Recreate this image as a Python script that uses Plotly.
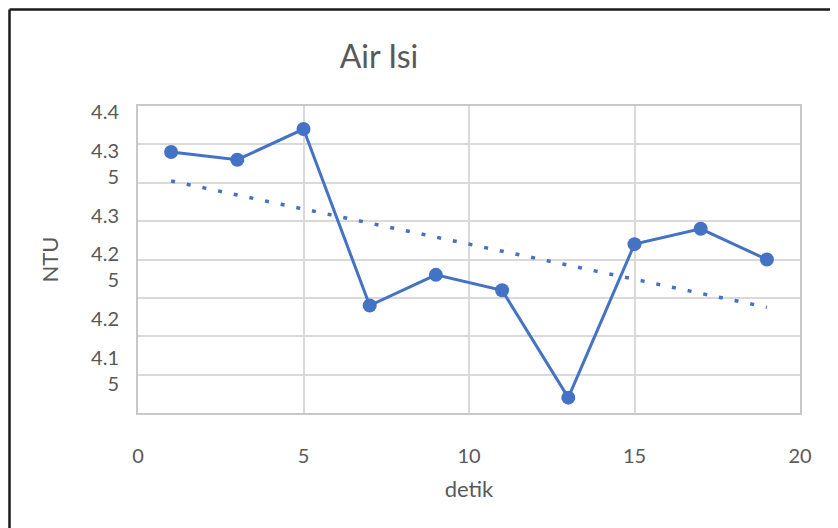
import numpy as np
import plotly.graph_objects as go

# ---- data ----
detik = [1, 3, 5, 7, 9, 11, 13, 15, 17, 19]
ntu = [4.34, 4.33, 4.37, 4.14, 4.18, 4.16, 4.02, 4.22, 4.24, 4.20]

# tick labels as shown (wrapped Excel labels)
y_label_vals = [4.4, 4.35, 4.3, 4.25, 4.2, 4.15]
y_label_text = ["4.4", "4.3<br>5", "4.3", "4.2<br>5", "4.2", "4.1<br>5"]
x_tick_vals = [0, 5, 10, 15, 20]

title_text = "Air Isi"
x_title = "detik"
y_title = "NTU"

# linear trendline (least squares)
slope, intercept = np.polyfit(detik, ntu, 1)
trend_x = [detik[0], detik[-1]]
trend_y = [slope * v + intercept for v in trend_x]

BLUE = "#4472C4"
GRID = "#d9d9d9"
TXT = "#595959"
FONT = "Lato"

fig = go.Figure()
fig.add_trace(go.Scatter(
    x=detik, y=ntu, mode="lines+markers",
    line=dict(color=BLUE, width=3),
    marker=dict(color=BLUE, size=14),
    showlegend=False, hoverinfo="x+y",
))
fig.add_trace(go.Scatter(
    x=trend_x, y=trend_y, mode="lines",
    line=dict(color=BLUE, width=3.5, dash="4px,12px"),
    showlegend=False, hoverinfo="skip",
))
# invisible trace bound to the label axis
fig.add_trace(go.Scatter(
    x=[None] * len(y_label_vals), y=y_label_vals, yaxis="y2",
    mode="markers", marker=dict(opacity=0), showlegend=False, hoverinfo="skip",
))

fig.update_layout(
    width=830, height=520,
    margin=dict(l=130, r=38, t=98, b=115),
    paper_bgcolor="white", plot_bgcolor="white",
    font=dict(family=FONT, color=TXT, size=20),
    title=dict(text=title_text, x=0.447, xref="container", xanchor="center",
               y=0.906, yref="container", yanchor="middle",
               font=dict(family=FONT, size=32, color=TXT)),
    xaxis=dict(
        range=[0, 20], tickvals=x_tick_vals, showgrid=True, gridcolor=GRID,
        gridwidth=1.5, zeroline=False, showline=True, linecolor="#c8c8c8",
        linewidth=1.5, mirror=True, ticks="", ticklabelstandoff=24,
        tickfont=dict(size=20, color=TXT),
        title=dict(text=x_title, standoff=16, font=dict(size=22, color=TXT)),
    ),
    yaxis=dict(
        range=[4.0, 4.4], dtick=0.05, showgrid=True, gridcolor=GRID,
        gridwidth=1.5, zeroline=False, showline=True, linecolor="#c8c8c8",
        linewidth=1.5, mirror=True, showticklabels=False, ticks="",
    ),
    yaxis2=dict(
        overlaying="y", side="left", anchor="x",
        range=[4.1098, 4.4055], tickvals=y_label_vals, ticktext=y_label_text,
        showgrid=False, zeroline=False, showline=False, ticks="",
        ticklabelstandoff=18, tickfont=dict(size=20, color=TXT),
        title=dict(text=y_title, standoff=26, font=dict(size=22, color=TXT)),
    ),
    shapes=[
        dict(type="line", xref="paper", yref="paper",
             x0=-0.1941, x1=-0.1941, y0=1.3143, y1=-0.4,
             line=dict(color="#1a1a1a", width=2.5)),
        dict(type="line", xref="paper", yref="paper",
             x0=-0.1941, x1=1.06, y0=1.3143, y1=1.3143,
             line=dict(color="#1a1a1a", width=2.5)),
    ],
)

fig.write_html("out.html")
